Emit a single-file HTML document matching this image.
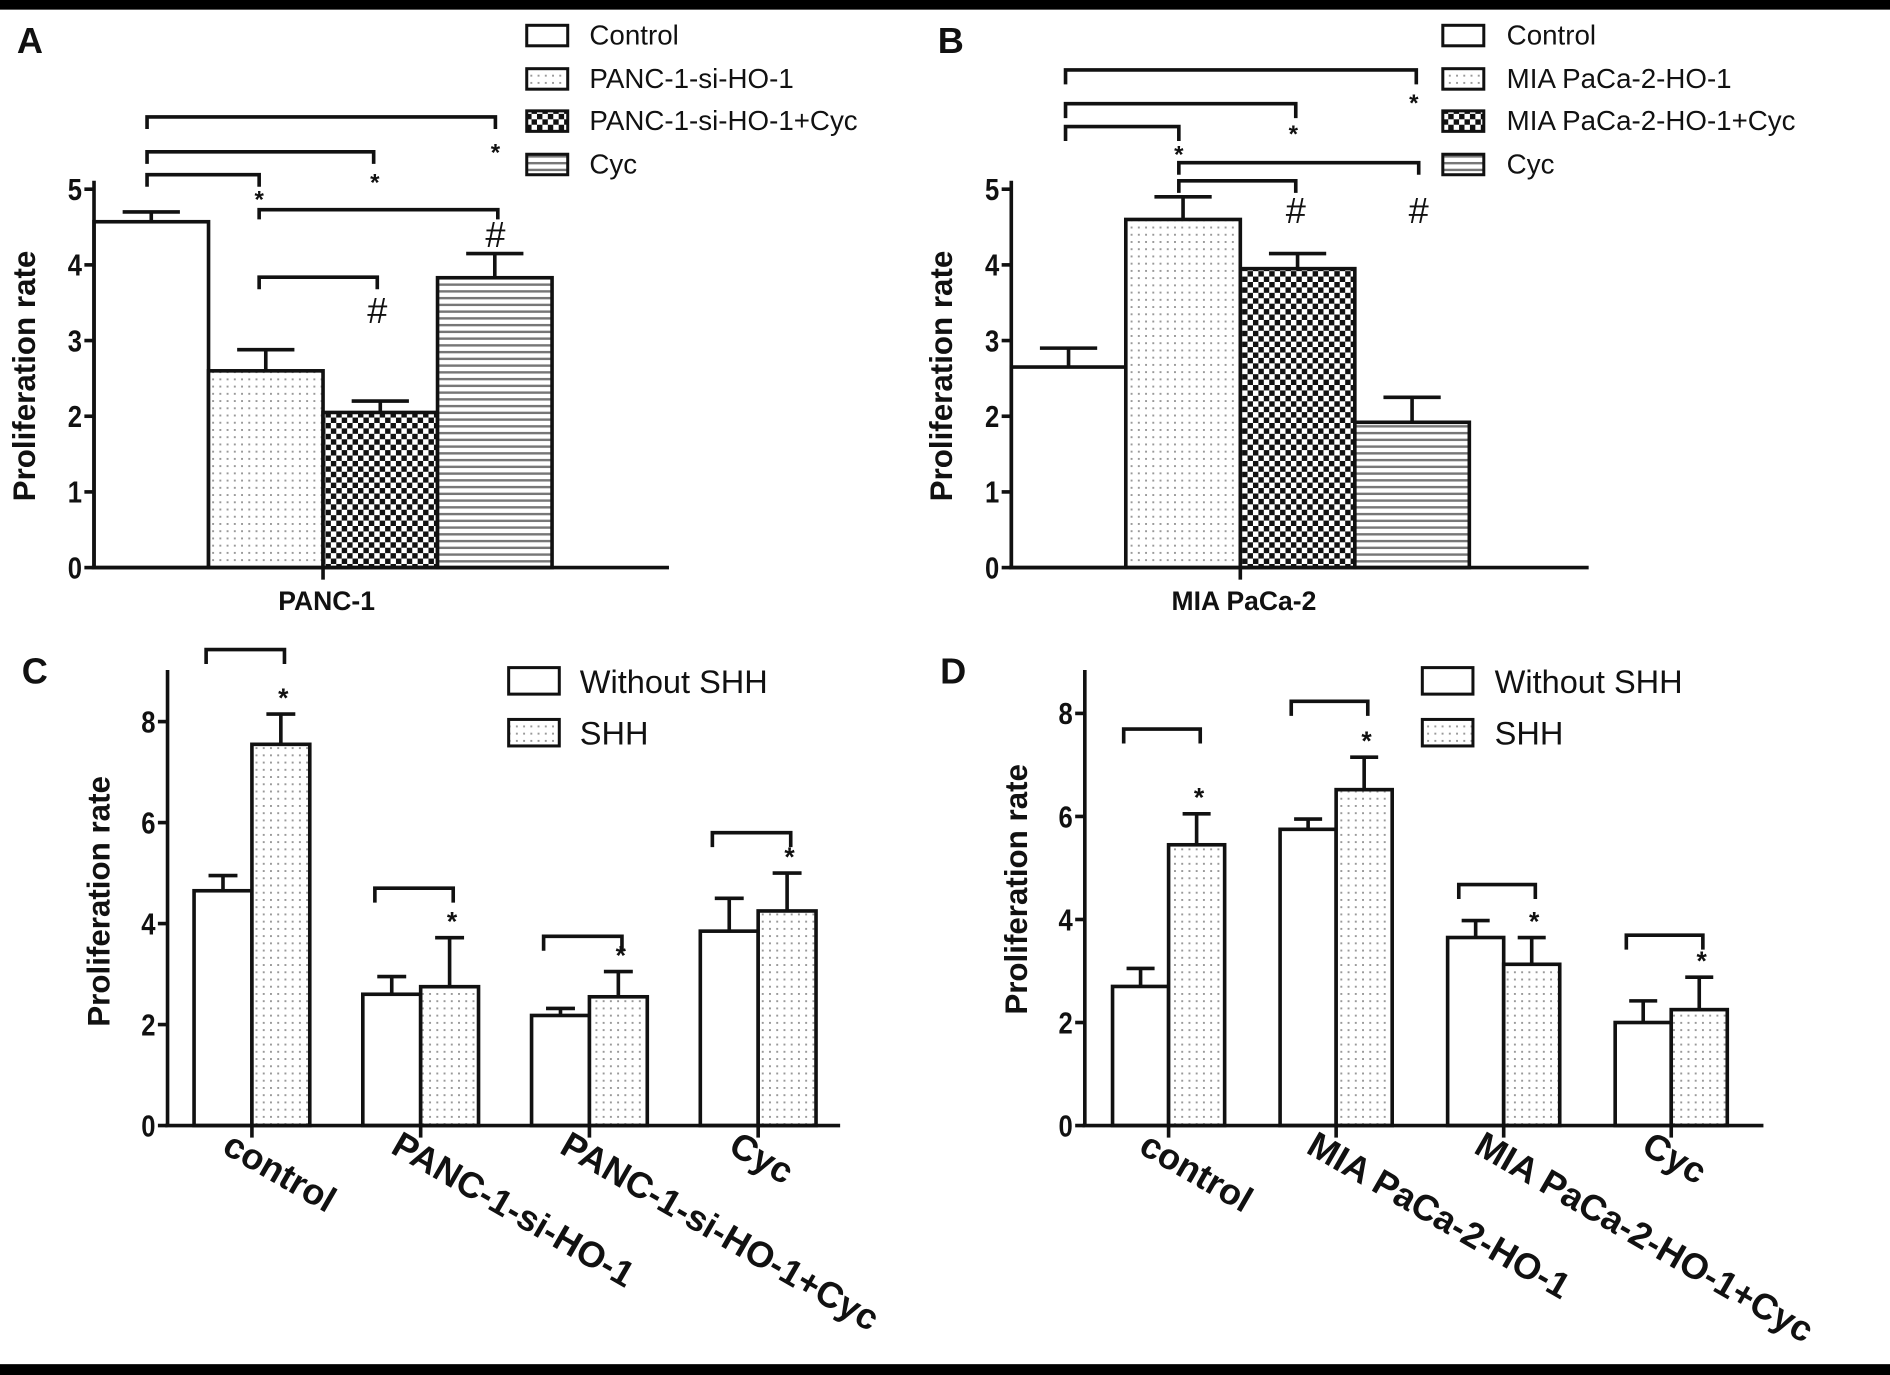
<!DOCTYPE html>
<html><head><meta charset="utf-8"><style>
html,body{margin:0;padding:0;background:#fff;}
svg{display:block;}
text{font-family:"Liberation Sans",Arial,sans-serif;fill:#111;}
</style></head>
<body>
<svg id="fig" width="1890" height="1375" viewBox="0 0 1568 1141" preserveAspectRatio="none" xmlns="http://www.w3.org/2000/svg">
<defs>
<pattern id="dots" width="6" height="6" patternUnits="userSpaceOnUse"><rect width="6" height="6" fill="#fff"/><rect x="2" y="2" width="1.6" height="1.6" fill="#999"/></pattern>
<pattern id="check" width="9" height="9" patternUnits="userSpaceOnUse"><rect width="9" height="9" fill="#fff"/><rect width="4.5" height="4.5" fill="#111"/><rect x="4.5" y="4.5" width="4.5" height="4.5" fill="#111"/></pattern>
<pattern id="stripes" width="6" height="5.6" patternUnits="userSpaceOnUse"><rect width="6" height="5.6" fill="#fff"/><rect y="0" width="6" height="2" fill="#777"/></pattern>
</defs>
<rect x="0" y="0" width="1568" height="8" fill="#000"/>
<rect x="0" y="1132" width="1568" height="9" fill="#000"/>
<g id="root"></g>
</svg>
<script>
// Panel A
const aCategories = ["Control","PANC-1-si-HO-1","PANC-1-si-HO-1+Cyc","Cyc"];
const aValues = [4.57, 2.6, 2.05, 3.83];
const aErrors = [0.13, 0.28, 0.15, 0.32];
const aTicks = [0,1,2,3,4,5];
// Panel B
const bCategories = ["Control","MIA PaCa-2-HO-1","MIA PaCa-2-HO-1+Cyc","Cyc"];
const bValues = [2.65, 4.6, 3.95, 1.92];
const bErrors = [0.25, 0.3, 0.2, 0.33];
const bTicks = [0,1,2,3,4,5];
// Panel C
const cCategories = ["control","PANC-1-si-HO-1","PANC-1-si-HO-1+Cyc","Cyc"];
const cWithout = [4.65, 2.6, 2.18, 3.85];
const cWithoutErr = [0.3, 0.35, 0.14, 0.65];
const cShh = [7.55, 2.75, 2.55, 4.25];
const cShhErr = [0.6, 0.97, 0.5, 0.75];
const cTicks = [0,2,4,6,8];
// Panel D
const dCategories = ["control","MIA PaCa-2-HO-1","MIA PaCa-2-HO-1+Cyc","Cyc"];
const dWithout = [2.7, 5.75, 3.65, 2.0];
const dWithoutErr = [0.35, 0.2, 0.33, 0.42];
const dShh = [5.45, 6.52, 3.13, 2.25];
const dShhErr = [0.6, 0.63, 0.52, 0.63];
const dTicks = [0,2,4,6,8];

const NS="http://www.w3.org/2000/svg";
const root=document.getElementById('root');
function el(tag,attrs,parent,txt){const e=document.createElementNS(NS,tag);for(const k in attrs)e.setAttribute(k,attrs[k]);if(txt!==undefined)e.textContent=txt;(parent||root).appendChild(e);return e;}
const fills=["#fff","url(#dots)","url(#check)","url(#stripes)"];

function axes(g,ax,y0,yTop,xEnd,ticks,scale){
  el('line',{x1:ax,y1:yTop,x2:ax,y2:y0,stroke:'#111','stroke-width':3},g);
  el('line',{x1:ax-2,y1:y0,x2:xEnd,y2:y0,stroke:'#111','stroke-width':3},g);
  ticks.forEach(t=>{
    const y=scale(t);
    el('line',{x1:ax-8,y1:y,x2:ax,y2:y,stroke:'#111','stroke-width':3},g);
    const tx=el('text',{x:ax-10,y:y+9,'text-anchor':'end','font-size':25,'font-weight':'bold',transform:`scale(0.85 1) translate(${(ax-10)/0.85-(ax-10)} 0)`},g,String(t));
    
    
  });
}
function bar(g,x,w,v,e,scale,y0,fill,name){
  const r=el('rect',{x:x,y:scale(v),width:w,height:y0-scale(v),fill:fill,stroke:'#111','stroke-width':3},g);
  
  
  const cx=x+w/2, ye=scale(v+e);
  const eb=el('path',{d:`M${cx},${scale(v)}V${ye}M${cx-w/4},${ye}H${cx+w/4}`,stroke:'#111','stroke-width':3,fill:'none'},g);
  
  
}
function bracket(g,x1,x2,y,drop1,drop2){
  const b=el('path',{d:`M${x1},${y+drop1}V${y}H${x2}V${y+drop2}`,stroke:'#111','stroke-width':3,fill:'none'},g);
  
  
}
function mark(g,x,y,s,size){
  const t=el('text',{x:x,y:y,'text-anchor':'middle','font-size':size,'font-weight':s==='*'?'bold':'normal','font-family':s==='#'?'Liberation Serif':'Liberation Sans'},g,s);
  
  
}
function ylabel(g,x,y,size){
  const t=el('text',{x:x,y:y,'text-anchor':'middle','font-size':size,'font-weight':'bold',transform:`rotate(-90 ${x} ${y})`},g,'Proliferation rate');
  
  
}
function panelLetter(g,x,y,s){
  const t=el('text',{x:x,y:y,'font-size':30,'font-weight':'bold'},g,s);
  
  
}
function legend(g,x,ys,labels,fl,w,h,size,tx){
  labels.forEach((l,i)=>{
    const lg=el('g',{},g);
    
    
    el('rect',{x:x,y:ys[i],width:w,height:h,fill:fl[i],stroke:'#111','stroke-width':2.5},lg);
    el('text',{x:tx,y:ys[i]+h-1,'font-size':size},lg,l);
  });
}

function singlePanel(name,ax,cats,vals,errs,ticks,xlab,xEnd){
  const g=el('g',{});
  
  
  const y0=471, yTop=150, unit=62.8;
  const sc=v=>y0-v*unit;
  const bw=95;
  cats.forEach((c,i)=>bar(g,ax+bw*i,bw,vals[i],errs[i],sc,y0,fills[i],'bar-'+(i+1)));
  axes(g,ax,y0,yTop,xEnd,ticks,sc);
  const mid=ax+bw*2;
  el('line',{x1:mid,y1:y0,x2:mid,y2:y0+10,stroke:'#111','stroke-width':3},g);
  const xl=el('text',{x:mid+3,y:506,'text-anchor':'middle','font-size':22,'font-weight':'bold'},g,xlab);
  
  
  ylabel(g,ax-49,312,26);
  return {g,sc,bw};
}
let A=singlePanel('panel-a',78,aCategories,aValues,aErrors,aTicks,'PANC-1',555);
panelLetter(A.g,14,44,'A');
bracket(A.g,122,411,97,10,10); mark(A.g,411,133,'*',20);
bracket(A.g,122,310,126,10,10); mark(A.g,311,158,'*',20);
bracket(A.g,122,215,145,10,10); mark(A.g,215,172,'*',20);
bracket(A.g,215,413,174,8,8); mark(A.g,411,205,'#',30);
bracket(A.g,215,313,230,10,10); mark(A.g,313,268,'#',30);
legend(A.g,437,[21,57,92,128],aCategories,fills,34,17,23,489);

let B=singlePanel('panel-b',839,bCategories,bValues,bErrors,bTicks,'MIA PaCa-2',1318);
panelLetter(B.g,778,44,'B');
bracket(B.g,884,1175,58,12,12); mark(B.g,1173,92,'*',20);
bracket(B.g,884,1075,86,12,12); mark(B.g,1073,118,'*',20);
bracket(B.g,884,978,105,12,12); mark(B.g,978,135,'*',20);
bracket(B.g,978,1177,135,10,10); mark(B.g,1177,185,'#',30);
bracket(B.g,978,1075,150,10,10); mark(B.g,1075,185,'#',30);
legend(B.g,1197,[21,57,92,128],bCategories,fills,34,17,23,1250);

function groupPanel(name,ax,xEnd,cats,w,we,s,se,ticks,unit,bw,gap,brackets,lx,ltx){
  const g=el('g',{});
  
  
  const y0=934;
  const sc=v=>y0-v*unit;
  cats.forEach((c,i)=>{
    const x0=ax+gap+(bw*2+gap*2)*i;
    bar(g,x0,bw,w[i],we[i],sc,y0,'#fff','bar-without-shh-'+(i+1));
    bar(g,x0+bw,bw,s[i],se[i],sc,y0,'url(#dots)','bar-shh-'+(i+1));
    const tx=x0+bw;
    el('line',{x1:tx,y1:y0,x2:tx,y2:y0+10,stroke:'#111','stroke-width':3},g);
    const t=el('text',{x:tx-26,y:y0+22,'font-size':30,'font-weight':'bold',transform:`rotate(30 ${tx-26} ${y0+22})`},g,c);
    
    
    const br=brackets[i];
    bracket(g,x0+bw/2-14,x0+bw*1.5+3,br,12,12);
    mark(g,x0+bw*1.5+2,sc(s[i]+se[i])-6,'*',22);
  });
  axes(g,ax,y0,556,xEnd,ticks,sc);
  legend(g,lx,[554,597],['Without SHH','SHH'],['#fff','url(#dots)'],42,22,27,ltx);
  return g;
}
let C=groupPanel('panel-c',139,697,cCategories,cWithout,cWithoutErr,cShh,cShhErr,cTicks,41.9,48,22,[539,737,777,691],422,481);
panelLetter(C.g,18,567,'C');
ylabel(C.g,91,748,26);
let D=groupPanel('panel-d',900,1463,dCategories,dWithout,dWithoutErr,dShh,dShhErr,dTicks,42.75,46.5,23,[605,582,734,776],1180,1240);
panelLetter(D.g,780,567,'D');
ylabel(D.g,852,738,26);
</script>
</body></html>
